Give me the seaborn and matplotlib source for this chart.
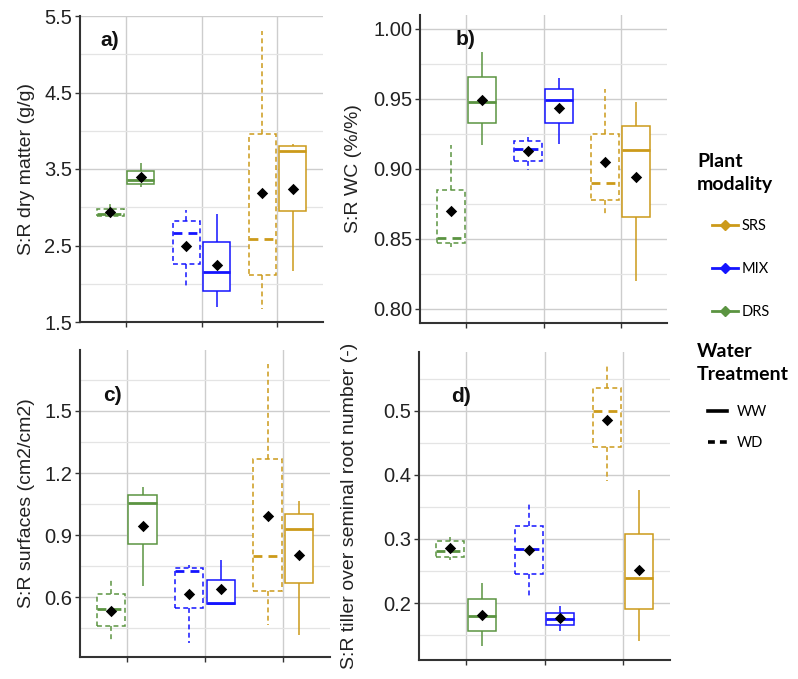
import numpy as np
import pandas as pd
import matplotlib
matplotlib.use("Agg")
import matplotlib.pyplot as plt
import seaborn as sns
from matplotlib.lines import Line2D

# ---------------- data ----------------
modality = ["DRS", "MIX", "SRS"]
water = ["WD", "WW"]
groups = [(m, w) for m in modality for w in water]   # DRS-WD, DRS-WW, MIX-WD, ...
colors = {"DRS": "#5B9441", "MIX": "#1414FF", "SRS": "#CC9A1A"}
legend_order = ["SRS", "MIX", "DRS"]

# panel a) S:R dry matter
a_min = [2.88, 3.26, 1.95, 1.69, 1.67, 2.17]
a_q1 = [2.88, 3.30, 2.26, 1.91, 2.12, 2.95]
a_med = [2.91, 3.35, 2.66, 2.15, 2.59, 3.73]
a_q3 = [2.98, 3.47, 2.82, 2.54, 3.96, 3.80]
a_max = [3.04, 3.58, 2.96, 2.91, 5.31, 3.83]
a_mean = [2.94, 3.40, 2.50, 2.25, 3.19, 3.24]

# panel b) S:R WC
b_min = [0.844, 0.917, 0.899, 0.918, 0.868, 0.820]
b_q1 = [0.847, 0.9326, 0.906, 0.9326, 0.878, 0.866]
b_med = [0.851, 0.9477, 0.914, 0.949, 0.890, 0.9135]
b_q3 = [0.885, 0.9656, 0.920, 0.957, 0.925, 0.931]
b_max = [0.917, 0.9833, 0.923, 0.9653, 0.957, 0.948]
b_mean = [0.870, 0.949, 0.913, 0.9434, 0.905, 0.894]

# panel c) S:R surfaces
c_min = [0.390, 0.653, 0.379, 0.566, 0.463, 0.414]
c_q1 = [0.458, 0.855, 0.548, 0.568, 0.629, 0.669]
c_med = [0.542, 1.057, 0.726, 0.571, 0.799, 0.931]
c_q3 = [0.613, 1.094, 0.742, 0.681, 1.266, 1.000]
c_max = [0.681, 1.130, 0.753, 0.781, 1.728, 1.065]
c_mean = [0.532, 0.946, 0.616, 0.639, 0.994, 0.802]

# panel d) S:R tiller over seminal root number
d_min = [0.267, 0.133, 0.210, 0.157, 0.390, 0.140]
d_q1 = [0.272, 0.156, 0.246, 0.1656, 0.444, 0.190]
d_med = [0.282, 0.179, 0.2845, 0.175, 0.4995, 0.239]
d_q3 = [0.297, 0.206, 0.321, 0.185, 0.535, 0.307]
d_max = [0.303, 0.231, 0.358, 0.196, 0.571, 0.376]
d_mean = [0.286, 0.181, 0.283, 0.176, 0.486, 0.252]

panels = [
    dict(tag="a)", ylabel="S:R dry matter (g/g)", stats=(a_min, a_q1, a_med, a_q3, a_max), mean=a_mean,
         ylim=(1.5, 5.5), major=[1.5, 2.5, 3.5, 4.5, 5.5], minor=[2.0, 3.0, 4.0, 5.0], fmt="{:.1f}",
         rect=(80, 16, 323, 322), tagpos=(0.123, 0.92), labelpad=6.5),
    dict(tag="b)", ylabel="S:R WC (%/%)", stats=(b_min, b_q1, b_med, b_q3, b_max), mean=b_mean,
         ylim=(0.79, 1.01), major=[0.80, 0.85, 0.90, 0.95, 1.00], minor=[0.825, 0.875, 0.925, 0.975], fmt="{:.2f}",
         rect=(420, 15, 667, 323), tagpos=(0.186, 0.92), labelpad=8),
    dict(tag="c)", ylabel="S:R surfaces (cm2/cm2)", stats=(c_min, c_q1, c_med, c_q3, c_max), mean=c_mean,
         ylim=(0.31, 1.795), major=[0.6, 0.9, 1.2, 1.5], minor=[0.45, 0.75, 1.05, 1.35, 1.65], fmt="{:.1f}",
         rect=(80, 350, 330, 657), tagpos=(0.128, 0.853), labelpad=6.5),
    dict(tag="d)", ylabel="S:R tiller over seminal root number (-)", stats=(d_min, d_q1, d_med, d_q3, d_max), mean=d_mean,
         ylim=(0.111, 0.592), major=[0.2, 0.3, 0.4, 0.5], minor=[0.15, 0.25, 0.35, 0.45, 0.55], fmt="{:.1f}",
         rect=(419, 352, 670, 660), tagpos=(0.167, 0.854), labelpad=18),
]

plt.rcParams["font.family"] = ["Liberation Sans", "DejaVu Sans"]

W, H = 798, 679
fig = plt.figure(figsize=(W / 100, H / 100), dpi=100)

dash = (0, (3.2, 2.2))
for p in panels:
    x0, y0, x1, y1 = p["rect"]
    ax = fig.add_axes([x0 / W, 1 - y1 / H, (x1 - x0) / W, (y1 - y0) / H])
    rows = []
    for i, (m, w) in enumerate(groups):
        for s in p["stats"]:
            rows.append(dict(modality=m, water=w, value=s[i]))
    df = pd.DataFrame(rows)
    mdf = pd.DataFrame(dict(modality=[g[0] for g in groups], water=[g[1] for g in groups], mean=p["mean"]))

    for m, w in groups:
        ls = dash if w == "WD" else "-"
        sub = df[(df.modality == m) & (df.water == w)]
        sns.boxplot(data=sub, x="modality", y="value", hue="water", order=modality, hue_order=water,
                    dodge=True, width=0.8, gap=0.1, whis=(0, 100),
                    palette={"WD": "white", "WW": "white"}, saturation=1,
                    linecolor=colors[m], linewidth=1.1, showcaps=False, fliersize=0,
                    legend=False, ax=ax,
                    boxprops=dict(linestyle=ls), whiskerprops=dict(linestyle=ls),
                    medianprops=dict(linestyle=ls, linewidth=2.0))
    sns.stripplot(data=mdf, x="modality", y="mean", hue="water", order=modality, hue_order=water,
                  dodge=True, jitter=False, palette={"WD": "black", "WW": "black"}, marker="D",
                  size=5.8, linewidth=0, legend=False, ax=ax, zorder=6)

    ax.set_xlim(-0.6, 2.6)
    ax.set_ylim(*p["ylim"])
    ax.set_xticks([0, 1, 2])
    ax.set_xticklabels([])
    ax.set_xlabel("")
    ax.set_yticks(p["major"])
    ax.set_yticklabels([p["fmt"].format(v) for v in p["major"]])
    ax.set_yticks(p["minor"], minor=True)
    ax.set_ylabel(p["ylabel"], fontsize=14, color="#222222", labelpad=p["labelpad"])
    ax.set_axisbelow(True)
    ax.grid(False)
    ax.yaxis.grid(True, which="major", color="#CDCDCD", linewidth=1.0)
    ax.yaxis.grid(True, which="minor", color="#E4E4E4", linewidth=0.9)
    ax.xaxis.grid(True, which="major", color="#CDCDCD", linewidth=1.0)
    ax.set_facecolor("white")
    for side in ("top", "right"):
        ax.spines[side].set_visible(False)
    for side in ("left", "bottom"):
        ax.spines[side].set_color("#333333")
        ax.spines[side].set_linewidth(1.5)
    ax.tick_params(axis="y", which="major", length=3.5, width=1.0, color="#333333",
                   labelsize=14.5, labelcolor="#222222", pad=2)
    ax.tick_params(axis="y", which="minor", length=0)
    ax.tick_params(axis="x", which="major", length=3.5, width=1.0, color="#333333")
    ax.text(p["tagpos"][0], p["tagpos"][1], p["tag"], transform=ax.transAxes, ha="center", va="center",
            fontsize=15, fontweight="bold", color="#111111")

# ---------------- legend ----------------
head_font = dict(family=["Lato", "DejaVu Sans"], size=14, weight="bold")
item_font = dict(family=["Lato", "DejaVu Sans"], size=10.5)
fig.text(697 / W, 1 - 153 / H, "Plant\nmodality", ha="left", va="top", linespacing=1.45, **head_font)
fig.text(697 / W, 1 - 343 / H, "Water\nTreatment", ha="left", va="top", linespacing=1.45, **head_font)

mod_handles = [Line2D([], [], color=colors[m], lw=2.0, marker="D", markersize=5) for m in legend_order]
leg1 = fig.legend(mod_handles, legend_order, loc="upper left", bbox_to_anchor=(712 / W, 1 - 219 / H),
                  frameon=False, labelspacing=2.0, handlelength=1.75, handletextpad=0.3,
                  borderpad=0, borderaxespad=0, prop=item_font)
wt_handles = [Line2D([], [], color="black", lw=2.6, linestyle="-"),
              Line2D([], [], color="black", lw=2.6, linestyle=(0, (1.9, 1.4)))]
leg2 = fig.legend(wt_handles, ["WW", "WD"], loc="upper left", bbox_to_anchor=(708 / W, 1 - 405 / H),
                  frameon=False, labelspacing=1.15, handlelength=1.3, handletextpad=0.7,
                  borderpad=0, borderaxespad=0, prop=item_font)

fig.savefig("out.png", dpi=100, facecolor="white")
